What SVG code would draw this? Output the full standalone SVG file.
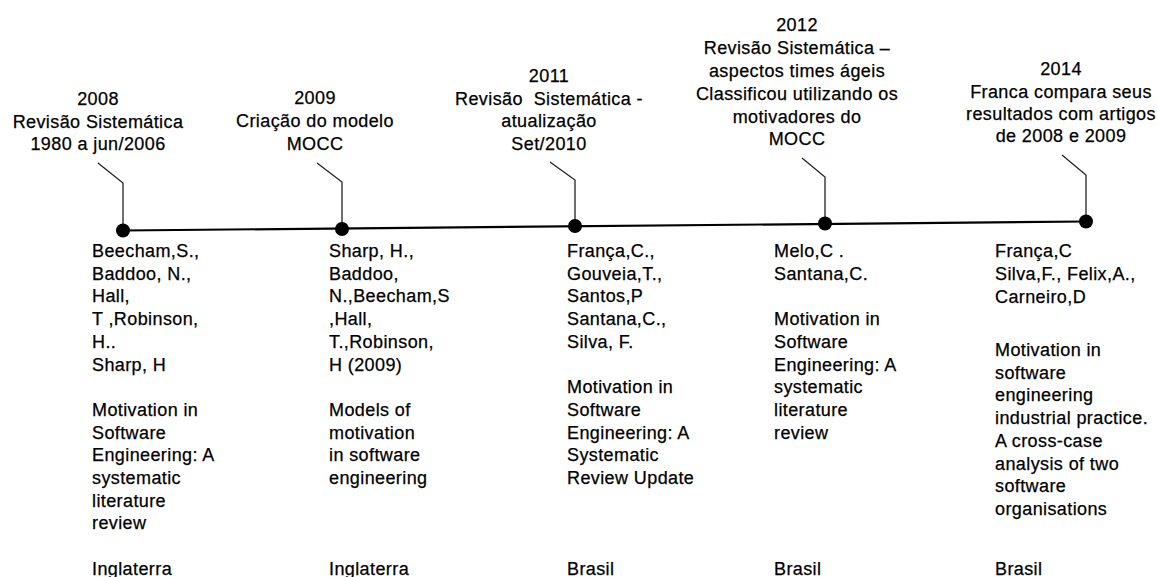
<svg xmlns="http://www.w3.org/2000/svg" width="1158" height="577" viewBox="0 0 1158 577">
  <style>
    text { font-family: "Liberation Sans", Arial, sans-serif; font-size: 18px; letter-spacing: 0.4px; fill: #000; stroke: #000; stroke-width: 0.25; }
    .head { text-anchor: middle; }
    .axis { stroke: #000; stroke-width: 2.2; fill: none; }
    .leader { stroke: #222; stroke-width: 1.3; fill: none; }
    .dot { fill: #000; }
  </style>

  <!-- timeline and leader lines -->
  <g id="connectors">
    <line class="axis" x1="123" y1="230.5" x2="1086" y2="221.5"/>
    <polyline class="leader" points="98,163 123,183 123,230.5"/>
    <polyline class="leader" points="317,163 342,182 342,229"/>
    <polyline class="leader" points="550,162 575,180 575,226"/>
    <polyline class="leader" points="802,158 825,177 825,223.5"/>
    <polyline class="leader" points="1062,155 1086,175 1086,221.5"/>
  </g>

  <!-- 2008 -->
  <g id="event-2008">
    <text class="head" x="98" y="105">2008</text>
    <text class="head" x="98" y="127.5">Revisão Sistemática</text>
    <text class="head" x="98" y="150">1980 a jun/2006</text>
    <circle class="dot" cx="123" cy="230.5" r="7"/>
    <text x="92" y="257">Beecham,S.,</text>
    <text x="92" y="279.7">Baddoo, N.,</text>
    <text x="92" y="302.4">Hall,</text>
    <text x="92" y="325.1">T ,Robinson,</text>
    <text x="92" y="347.8">H..</text>
    <text x="92" y="370.5">Sharp, H</text>
    <text x="92" y="415.9">Motivation in</text>
    <text x="92" y="438.6">Software</text>
    <text x="92" y="461.3">Engineering: A</text>
    <text x="92" y="484">systematic</text>
    <text x="92" y="506.7">literature</text>
    <text x="92" y="529.4">review</text>
    <text x="92" y="574.8">Inglaterra</text>
  </g>

  <!-- 2009 -->
  <g id="event-2009">
    <text class="head" x="315" y="104">2009</text>
    <text class="head" x="315" y="127">Criação do modelo</text>
    <text class="head" x="315" y="150">MOCC</text>
    <circle class="dot" cx="342" cy="229" r="7"/>
    <text x="329" y="257">Sharp, H.,</text>
    <text x="329" y="279.7">Baddoo,</text>
    <text x="329" y="302.4">N.,Beecham,S</text>
    <text x="329" y="325.1">,Hall,</text>
    <text x="329" y="347.8">T.,Robinson,</text>
    <text x="329" y="370.5">H (2009)</text>
    <text x="329" y="415.9">Models of</text>
    <text x="329" y="438.6">motivation</text>
    <text x="329" y="461.3">in software</text>
    <text x="329" y="484">engineering</text>
    <text x="329" y="574.8">Inglaterra</text>
  </g>

  <!-- 2011 -->
  <g id="event-2011">
    <text class="head" x="549" y="82">2011</text>
    <text class="head" x="549" y="104.5">Revisão&#160; Sistemática -</text>
    <text class="head" x="549" y="127">atualização</text>
    <text class="head" x="549" y="149.5">Set/2010</text>
    <circle class="dot" cx="575" cy="226" r="7"/>
    <text x="567" y="257">França,C.,</text>
    <text x="567" y="279.7">Gouveia,T.,</text>
    <text x="567" y="302.4">Santos,P</text>
    <text x="567" y="325.1">Santana,C.,</text>
    <text x="567" y="347.8">Silva, F.</text>
    <text x="567" y="393.2">Motivation in</text>
    <text x="567" y="415.9">Software</text>
    <text x="567" y="438.6">Engineering: A</text>
    <text x="567" y="461.3">Systematic</text>
    <text x="567" y="484">Review Update</text>
    <text x="567" y="574.8">Brasil</text>
  </g>

  <!-- 2012 -->
  <g id="event-2012">
    <text class="head" x="797" y="31">2012</text>
    <text class="head" x="797" y="54">Revisão Sistemática –</text>
    <text class="head" x="797" y="77">aspectos times ágeis</text>
    <text class="head" x="797" y="100">Classificou utilizando os</text>
    <text class="head" x="797" y="122.5">motivadores do</text>
    <text class="head" x="797" y="145">MOCC</text>
    <circle class="dot" cx="825" cy="223.5" r="7"/>
    <text x="774" y="257">Melo,C .</text>
    <text x="774" y="279.7">Santana,C.</text>
    <text x="774" y="325.1">Motivation in</text>
    <text x="774" y="347.8">Software</text>
    <text x="774" y="370.5">Engineering: A</text>
    <text x="774" y="393.2">systematic</text>
    <text x="774" y="415.9">literature</text>
    <text x="774" y="438.6">review</text>
    <text x="774" y="574.8">Brasil</text>
  </g>

  <!-- 2014 -->
  <g id="event-2014">
    <text class="head" x="1061" y="75">2014</text>
    <text class="head" x="1061" y="97.5">Franca compara seus</text>
    <text class="head" x="1061" y="120">resultados com artigos</text>
    <text class="head" x="1061" y="142">de 2008 e 2009</text>
    <circle class="dot" cx="1086" cy="221.5" r="7"/>
    <text x="995" y="257">França,C</text>
    <text x="995" y="280">Silva,F., Felix,A.,</text>
    <text x="995" y="303">Carneiro,D</text>
    <text x="995" y="356">Motivation in</text>
    <text x="995" y="378.7">software</text>
    <text x="995" y="401.4">engineering</text>
    <text x="995" y="424.1">industrial practice.</text>
    <text x="995" y="446.8">A cross-case</text>
    <text x="995" y="469.5">analysis of two</text>
    <text x="995" y="492.2">software</text>
    <text x="995" y="514.9">organisations</text>
    <text x="995" y="574.8">Brasil</text>
  </g>
</svg>
